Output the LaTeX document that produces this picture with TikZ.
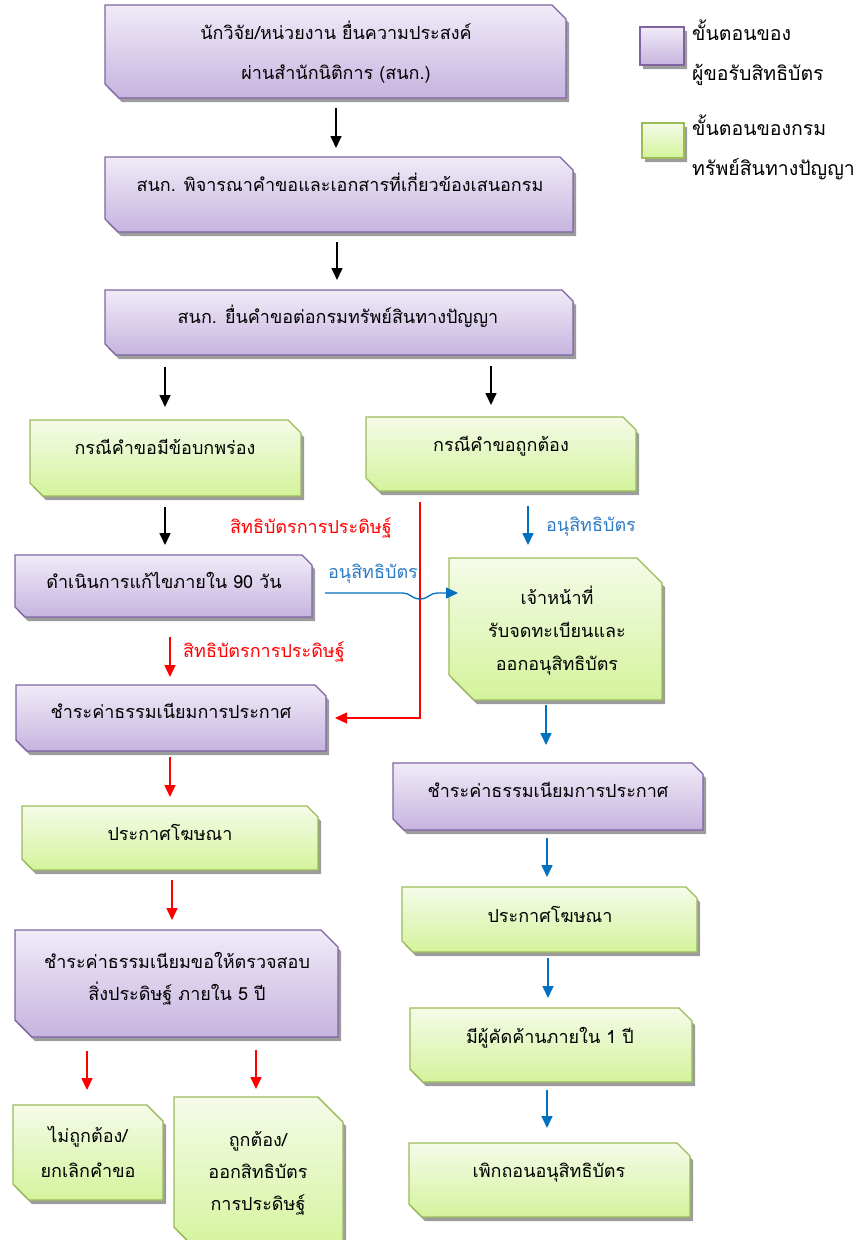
\documentclass[tikz,border=0pt]{standalone}
\usepackage{fontspec}
\newfontfamily\thai[Script=Thai]{Loma}
\usetikzlibrary{arrows.meta,calc}
\definecolor{pTop}{HTML}{F0EBF8}
\definecolor{pBot}{HTML}{C6B4DF}
\definecolor{pEdge}{HTML}{8064A2}
\definecolor{gTop}{HTML}{F5FBE9}
\definecolor{gBot}{HTML}{D4F39C}
\definecolor{gEdge}{HTML}{9BBB59}
\definecolor{shd}{HTML}{9C9C9C}
\definecolor{myred}{HTML}{FF0000}
\definecolor{myblue}{HTML}{0070C0}
\definecolor{lblblue}{HTML}{2E7BC4}
\newcommand\snipbox[7]{%
  \fill[shd] (#2+3,#3+4) -- (#4+3-#6,#3+4) -- (#4+3,#3+4+#6) -- (#4+3,#5+4) -- (#2+3+#6,#5+4) -- (#2+3,#5+4-#6) -- cycle;
  \path[#7] (#2,#3) -- (#4-#6,#3) -- (#4,#3+#6) -- (#4,#5) -- (#2+#6,#5) -- (#2,#5-#6) -- cycle;
  \coordinate (#1) at ({(#2+#4)/2},{(#3+#5)/2});
}
\tikzset{
  pbox/.style={top color=pTop, bottom color=pBot, draw=pEdge, line width=1.4pt},
  gbox/.style={top color=gTop, bottom color=gBot, draw=gEdge, line width=1.4pt},
  txt/.style={anchor=base, inner sep=0pt, align=center, font=\thai\fontsize{18}{32}\selectfont},
  ltxt/.style={anchor=base west, inner sep=0pt, font=\thai\fontsize{19.5}{32}\selectfont},
  karr/.style={line width=1.6pt, draw=black, -{Triangle[width=11pt,length=12pt]}},
  rarr/.style={line width=1.6pt, draw=myred, -{Triangle[width=11pt,length=12pt]}},
  barr/.style={line width=1.6pt, draw=myblue, -{Triangle[width=11pt,length=12pt]}},
}
\begin{document}
\begin{tikzpicture}[x=1pt,y=-1pt]
\useasboundingbox (0,0) rectangle (864,1240);
\clip (0,0) rectangle (864,1240);
% boxes
\snipbox{A}{105}{5}{566}{98}{14}{pbox}
\snipbox{B}{105}{157}{573}{232}{13}{pbox}
\snipbox{C}{105}{290}{573}{355}{11}{pbox}
\snipbox{D}{30}{420}{301}{496}{13}{gbox}
\snipbox{E}{366}{417}{636}{491}{13}{gbox}
\snipbox{F}{15}{555}{312}{617}{10}{pbox}
\snipbox{G}{16}{685}{326}{751}{11}{pbox}
\snipbox{M}{22}{806}{318}{870}{11}{gbox}
\snipbox{N}{15}{930}{338}{1037}{17}{pbox}
\snipbox{O}{13}{1105}{163}{1200}{16}{gbox}
\snipbox{P}{174}{1097}{343}{1252}{25}{gbox}
\snipbox{H}{449}{558}{662}{700}{25}{gbox}
\snipbox{I}{393}{763}{703}{830}{11}{pbox}
\snipbox{J}{402}{887}{697}{952}{11}{gbox}
\snipbox{K}{410}{1008}{692}{1082}{13}{gbox}
\snipbox{L}{409}{1143}{690}{1217}{13}{gbox}
% legend
\snipbox{LP}{640}{27}{684}{65}{0}{pbox}
\snipbox{LG}{642}{123}{684}{158}{0}{gbox}
\node[ltxt] (LPt1) at (692,40) {ขั้นตอนของ};
\node[ltxt] (LPt2) at (692,80) {ผู้ขอรับสิทธิบัตร};
\node[ltxt] (LGt1) at (692,135) {ขั้นตอนของกรม};
\node[ltxt] (LGt2) at (692,175) {ทรัพย์สินทางปัญญา};
% texts (anchor = baseline of last line)
\node[txt, font=\thai\fontsize{18}{40}\selectfont] (At) at (336,79) {นักวิจัย/หน่วยงาน ยื่นความประสงค์\\ผ่านสำนักนิติการ (สนก.)};
\node[txt] (Bt) at (340,191) {สนก. พิจารณาคำขอและเอกสารที่เกี่ยวข้องเสนอกรม};
\node[txt] (Ct) at (338,323) {สนก. ยื่นคำขอต่อกรมทรัพย์สินทางปัญญา};
\node[txt] (Dt) at (165,454) {กรณีคำขอมีข้อบกพร่อง};
\node[txt] (Et) at (501,451) {กรณีคำขอถูกต้อง};
\node[txt] (Ft) at (164,588) {ดำเนินการแก้ไขภายใน 90 วัน};
\node[txt] (Gt) at (171,718) {ชำระค่าธรรมเนียมการประกาศ};
\node[txt] (Mt) at (170,840) {ประกาศโฆษณา};
\node[txt] (Nt) at (177,1000) {ชำระค่าธรรมเนียมขอให้ตรวจสอบ\\สิ่งประดิษฐ์ ภายใน 5 ปี};
\node[txt, font=\thai\fontsize{18}{35}\selectfont] (Ot) at (88,1177) {ไม่ถูกต้อง/\\ยกเลิกคำขอ};
\node[txt] (Pt) at (258,1210) {ถูกต้อง/\\ออกสิทธิบัตร\\การประดิษฐ์};
\node[txt, font=\thai\fontsize{18}{33}\selectfont] (Ht) at (557,670) {เจ้าหน้าที่\\รับจดทะเบียนและ\\ออกอนุสิทธิบัตร};
\node[txt] (It) at (548,797) {ชำระค่าธรรมเนียมการประกาศ};
\node[txt] (Jt) at (550,922) {ประกาศโฆษณา};
\node[txt] (Kt) at (550,1043) {มีผู้คัดค้านภายใน 1 ปี};
\node[txt] (Lt) at (549,1177) {เพิกถอนอนุสิทธิบัตร};
% labels
\node[txt, text=myred] (r1) at (311,533) {สิทธิบัตรการประดิษฐ์};
\node[txt, text=myred] (r2) at (264,657) {สิทธิบัตรการประดิษฐ์};
\node[txt, text=lblblue] (b1) at (373,578) {อนุสิทธิบัตร};
\node[txt, text=lblblue] (b2) at (591,531) {อนุสิทธิบัตร};
% arrow ends
\coordinate (a1s) at (336,108); \coordinate (a1e) at (336,148);
\coordinate (a2s) at (337,242); \coordinate (a2e) at (337,280);
\coordinate (a3s) at (165,367); \coordinate (a3e) at (165,407);
\coordinate (a4s) at (491,366); \coordinate (a4e) at (491,405);
\coordinate (a5s) at (165,507); \coordinate (a5e) at (165,545);
\coordinate (a6s) at (170,637); \coordinate (a6e) at (170,677);
\coordinate (a7s) at (170,757); \coordinate (a7e) at (170,797);
\coordinate (a8s) at (172,880); \coordinate (a8e) at (172,920);
\coordinate (a9s) at (87,1051); \coordinate (a9e) at (87,1090);
\coordinate (a10s) at (256,1050); \coordinate (a10e) at (256,1089);
\coordinate (b1s) at (528,506); \coordinate (b1e) at (528,545);
\coordinate (b2s) at (546,705); \coordinate (b2e) at (546,745);
\coordinate (b3s) at (547,838); \coordinate (b3e) at (547,877);
\coordinate (b4s) at (548,958); \coordinate (b4e) at (548,998);
\coordinate (b5s) at (547,1090); \coordinate (b5e) at (547,1128);
\coordinate (rS) at (420,502); \coordinate (rE) at (335,718);
\coordinate (hS) at (325,593); \coordinate (hE) at (458,593);
\draw[karr] (a1s) -- (a1e);
\draw[karr] (a2s) -- (a2e);
\draw[karr] (a3s) -- (a3e);
\draw[karr] (a4s) -- (a4e);
\draw[karr] (a5s) -- (a5e);
\draw[rarr] (a6s) -- (a6e);
\draw[rarr] (a7s) -- (a7e);
\draw[rarr] (a8s) -- (a8e);
\draw[rarr] (a9s) -- (a9e);
\draw[rarr] (a10s) -- (a10e);
\draw[barr] (b1s) -- (b1e);
\draw[barr] (b2s) -- (b2e);
\draw[barr] (b3s) -- (b3e);
\draw[barr] (b4s) -- (b4e);
\draw[barr] (b5s) -- (b5e);
\draw[rarr, line width=1.3pt] (rS) |- (rE);
\draw[barr, line width=1.3pt] (hS) -- ++(78,0) .. controls ++(7,0) and ++(-8,0) .. ++(17,6) .. controls ++(8,0) and ++(-7,0) .. ++(17,-6) -- (hE);
\end{tikzpicture}
\end{document}
